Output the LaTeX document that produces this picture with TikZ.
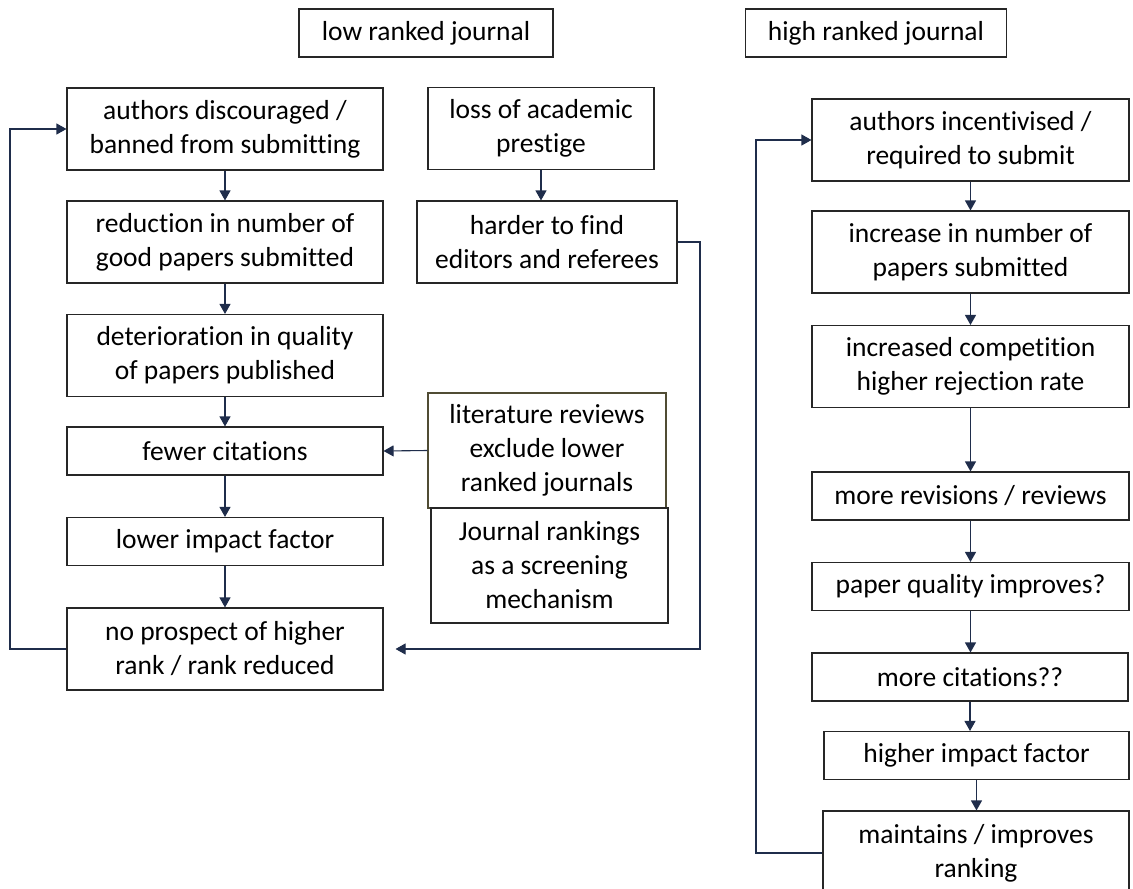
\documentclass[tikz,border=0pt]{standalone}
\usepackage{fontspec}
\setmainfont{Carlito}[Ligatures=NoCommon]
\usepackage{tikz}
\usetikzlibrary{arrows.meta}

\definecolor{navy}{RGB}{31,45,75}
\definecolor{olivegray}{RGB}{80,76,52}

\tikzset{
  box/.style={draw=black!85, line width=1.1pt, align=center, inner sep=0pt,
    font=\fontsize{27.5}{34}\selectfont},
  one/.style={minimum height=48pt},
  two/.style={minimum height=82pt},
  three/.style={minimum height=115pt},
  flow/.style={draw=navy, line width=1.1pt, -{Triangle[length=10pt,width=11pt]}},
}

\begin{document}
\begin{tikzpicture}[x=1pt,y=-1pt]
  \useasboundingbox (0,0) rectangle (1133,889);
  \node[box, one, minimum width=254pt] at (426,33) (lowj) {low ranked journal};
  \node[box, one, minimum width=261pt] at (876,33) (highj) {high ranked journal};
  % low ranked
  \node[box, two, minimum width=316pt] at (225,129) (l1) {authors discouraged /\\banned from submitting};
  \node[box, two, minimum width=316pt] at (225,242) (l2) {reduction in number of\\good papers submitted};
  \node[box, two, minimum width=316pt] at (225,355.5) (l3) {deterioration in quality\\of papers published};
  \node[box, one, minimum width=316pt] at (225,451) (l4) {fewer citations};
  \node[box, one, minimum width=316pt] at (225,541.5) (l5) {lower impact factor};
  \node[box, two, minimum width=316pt] at (225,649) (l6) {no prospect of higher\\rank / rank reduced};
  \node[box, two, minimum width=226pt] at (541,128.5) (m1) {loss of academic\\prestige};
  \node[box, two, minimum width=260pt] at (547,242) (m2) {harder to find\\editors and referees};
  \node[box, three, minimum width=238pt, draw=olivegray] at (547,450.5) (m3) {literature reviews\\exclude lower\\ranked journals};
  \node[box, three, minimum width=237pt] at (549.5,565.5) (m4) {Journal rankings\\as a screening\\mechanism};
  % high ranked
  \node[box, two, minimum width=317pt] at (970.5,140) (r1) {authors incentivised /\\required to submit};
  \node[box, two, minimum width=317pt] at (970.5,252) (r2) {increase in number of\\papers submitted};
  \node[box, two, minimum width=317pt] at (970.5,366.5) (r3) {increased competition\\higher rejection rate};
  \node[box, one, minimum width=317pt] at (970.5,496) (r4) {more revisions / reviews};
  \node[box, one, minimum width=317pt] at (970.5,586.5) (r5) {paper quality improves?};
  \node[box, one, minimum width=316pt] at (970,677) (r6) {more citations??};
  \node[box, one, minimum width=305pt] at (976.5,755.5) (r7) {higher impact factor};
  \node[box, minimum height=84pt, minimum width=306pt] at (976,853) (r8) {maintains / improves\\ranking};
  \coordinate (lloop) at (10,0);
  \coordinate (mloop) at (700,0);
  \coordinate (rloop) at (756,0);
  \foreach \x/\y in {l1/l2,l2/l3,l3/l4,l4/l5,l5/l6,m1/m2,r1/r2,r2/r3,r3/r4,r4/r5,r5/r6,r6/r7,r7/r8}
    \draw[flow] (\x.south) -- (\x.south |- \y.north);
  \draw[flow] (m3.west) -- (l4.east);
  \draw[flow] (l6.west) -- (l6.west -| lloop) |- (l1.west);
  \draw[flow] (r8.west) -- (r8.west -| rloop) |- (r1.west);
  \draw[flow, shorten >=12pt] (m2.east) -- (m2.east -| mloop) |- (l6.east);
\end{tikzpicture}
\end{document}
